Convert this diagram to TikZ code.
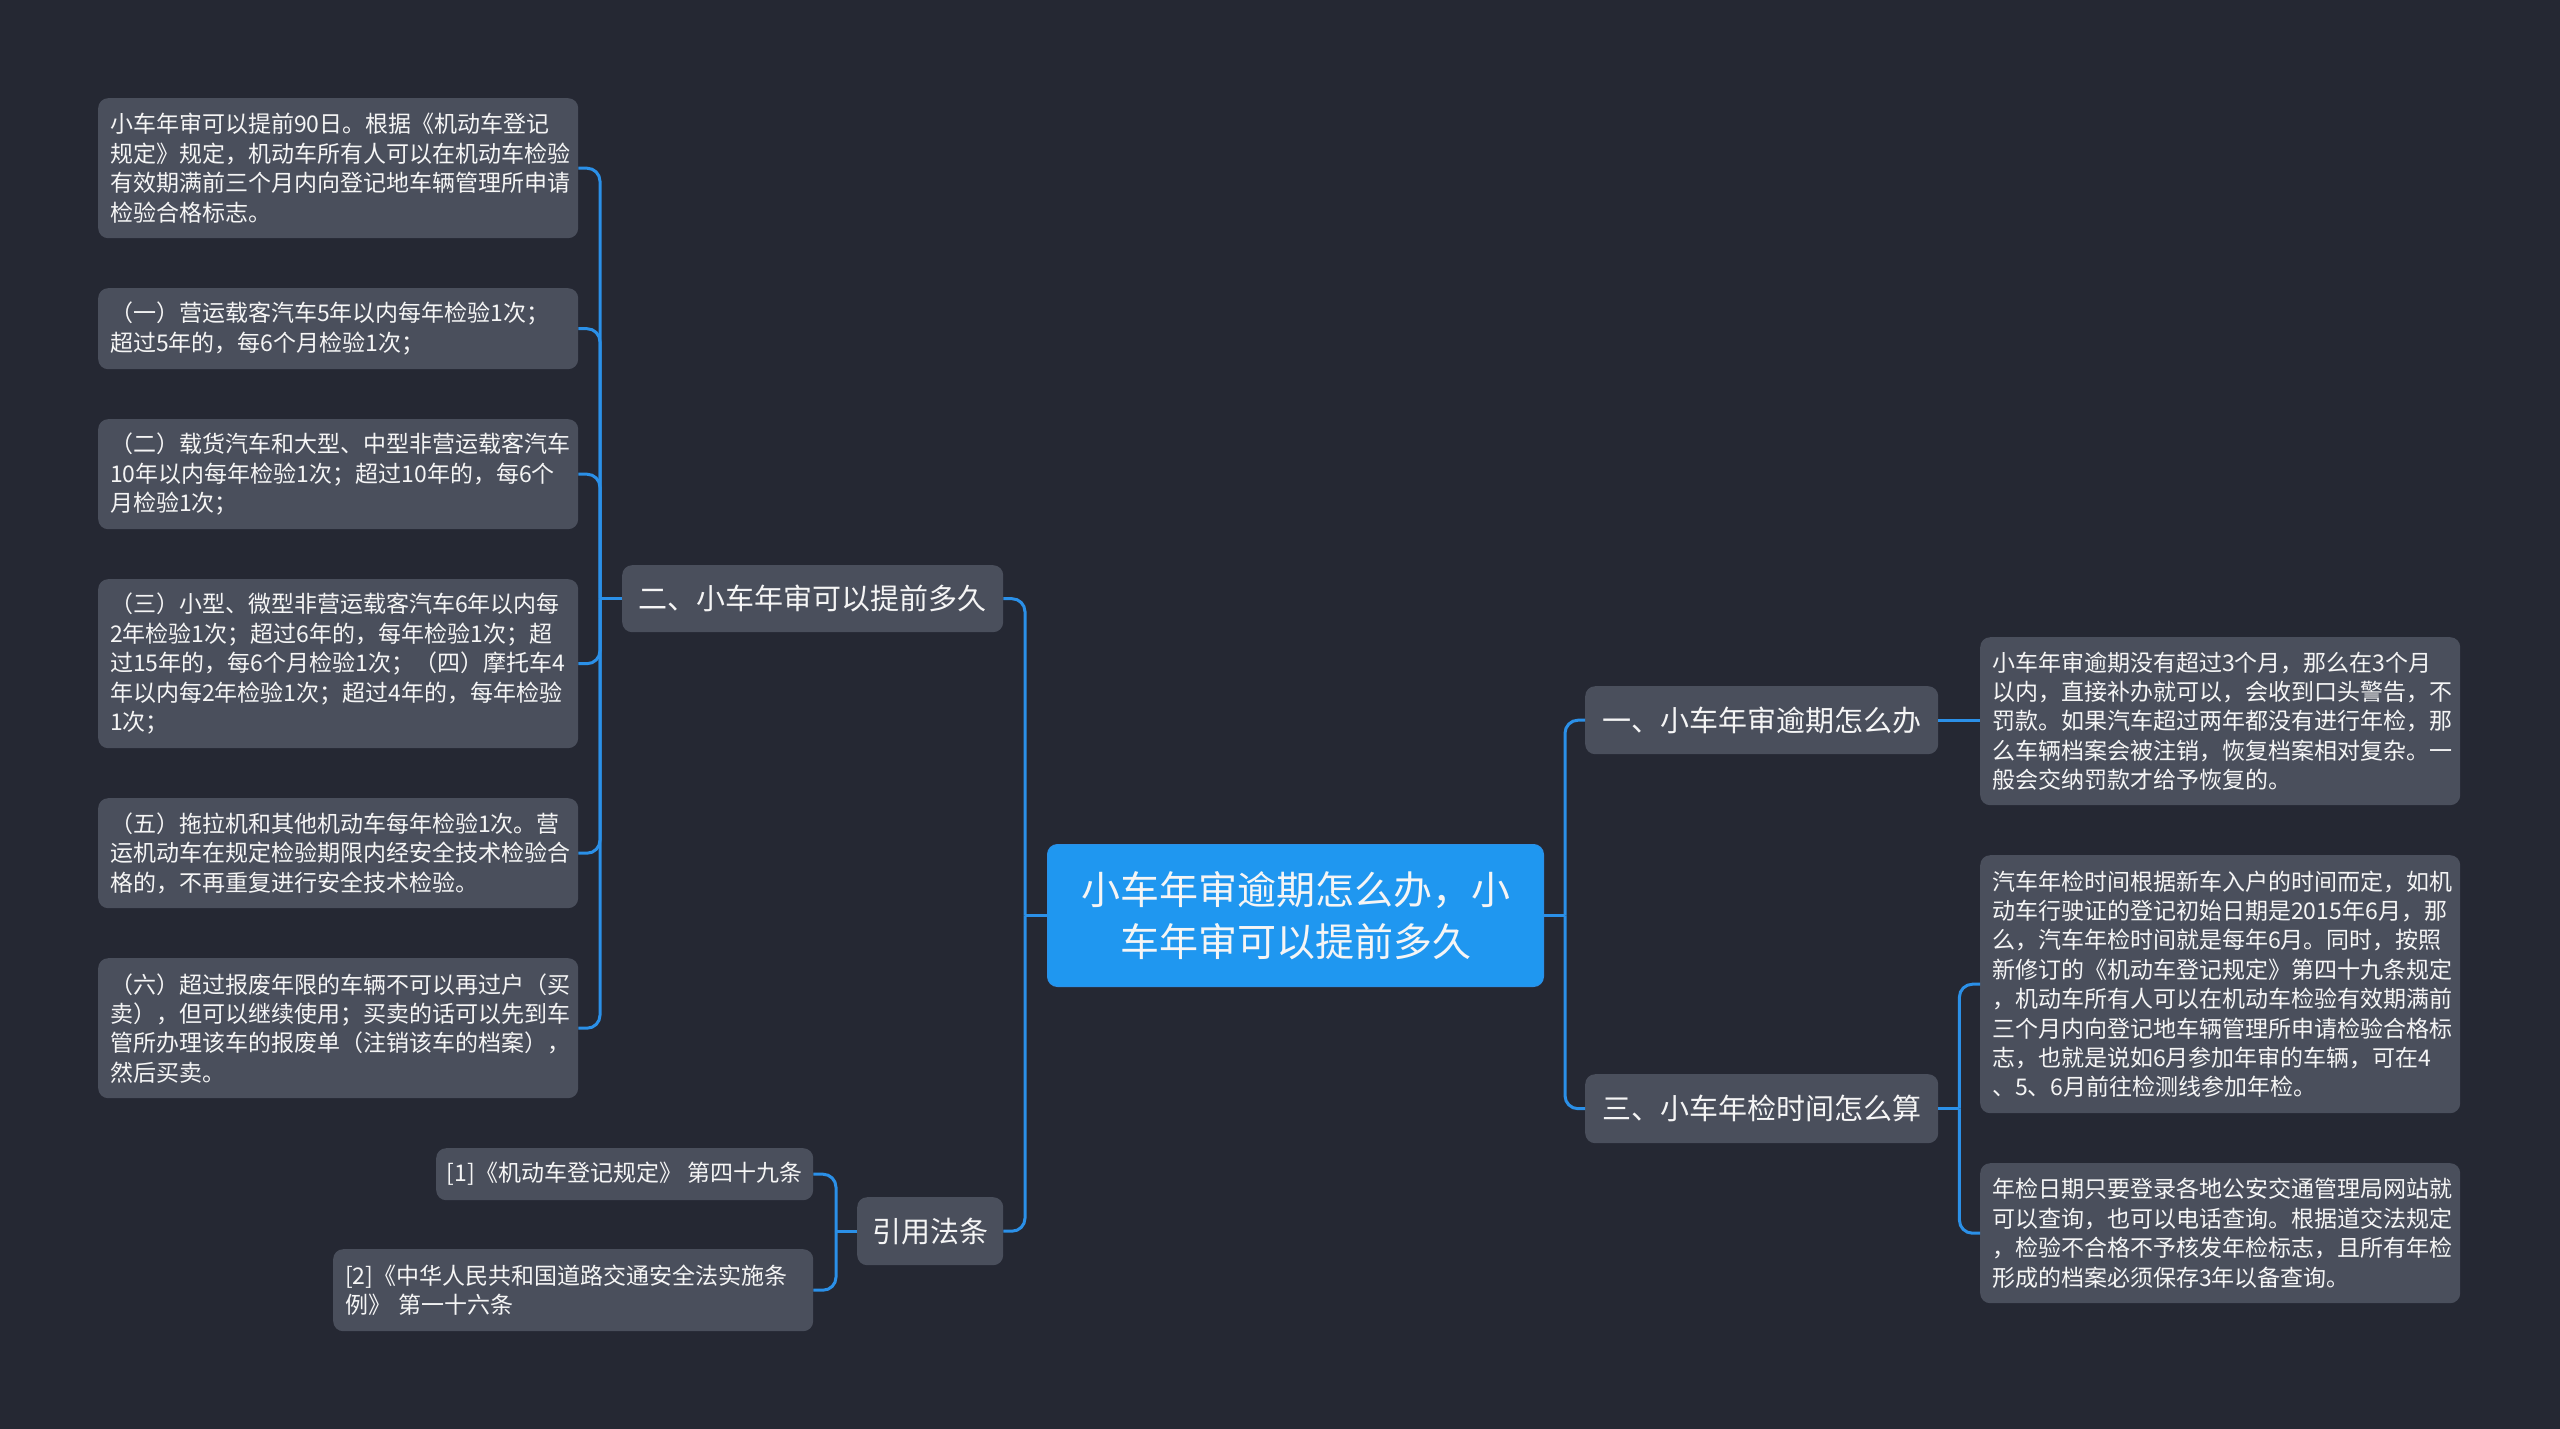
\documentclass[tikz,border=0pt]{standalone}
\usepackage{fontspec}
\newfontfamily\cjk{Noto Sans CJK SC}
\usetikzlibrary{calc}
\definecolor{bgc}{HTML}{252833}
\definecolor{boxc}{HTML}{4A4F5C}
\definecolor{linec}{HTML}{2B90E8}
\definecolor{mainc}{HTML}{1F97F0}
\definecolor{txtc}{HTML}{F5F5F5}
\begin{document}
\begin{tikzpicture}[x=1pt,y=-1pt,
  box/.style={fill=boxc, rounded corners=10pt, text=txtc, inner ysep=0pt, anchor=north west},
  leaf/.style={box, align=left, inner xsep=12pt, text width=456pt, font=\cjk\fontsize{23}{29.4}\selectfont},
  branch/.style={box, align=center, inner xsep=0pt, font=\cjk\fontsize{29}{36}\selectfont},
  ref/.style={box, align=left, inner xsep=12pt, font=\cjk\fontsize{23}{29.4}\selectfont},
  mainbox/.style={fill=mainc, draw=linec, line width=1pt, rounded corners=10pt, text=txtc, align=center, inner sep=0pt, anchor=north west, font=\cjk\fontsize{39}{52}\selectfont},
  conn/.style={draw=linec, line width=3pt},
  curve/.style={conn, rounded corners=13pt}]
\fill[bgc] (0,0) rectangle (2560,1429);
\useasboundingbox (0,0) rectangle (2560,1429);

% center
\node[mainbox, minimum width=496pt, minimum height=142pt] (c) at (1047,844) {小车年审逾期怎么办，小\\车年审可以提前多久};

% branches
\node[branch, minimum width=381pt, minimum height=67pt] (b2) at (622,565) {二、小车年审可以提前多久};
\node[branch, minimum width=146pt, minimum height=68pt] (bq) at (857,1197) {引用法条};
\node[branch, minimum width=353pt, minimum height=68pt] (b1) at (1585,686) {一、小车年审逾期怎么办};
\node[branch, minimum width=353pt, minimum height=69pt] (b3) at (1585,1074) {三、小车年检时间怎么算};

% left leaves
\node[leaf, minimum height=140pt] (l1) at (98,98) {小车年审可以提前90日。根据《机动车登记\\规定》规定，机动车所有人可以在机动车检验\\有效期满前三个月内向登记地车辆管理所申请\\检验合格标志。};
\node[leaf, minimum height=81pt] (l2) at (98,288) {（一）营运载客汽车5年以内每年检验1次；\\超过5年的，每6个月检验1次；};
\node[leaf, minimum height=110pt] (l3) at (98,419) {（二）载货汽车和大型、中型非营运载客汽车\\10年以内每年检验1次；超过10年的，每6个\\月检验1次；};
\node[leaf, minimum height=169pt] (l4) at (98,579) {（三）小型、微型非营运载客汽车6年以内每\\2年检验1次；超过6年的，每年检验1次；超\\过15年的，每6个月检验1次；（四）摩托车4\\年以内每2年检验1次；超过4年的，每年检验\\1次；};
\node[leaf, minimum height=110pt] (l5) at (98,798) {（五）拖拉机和其他机动车每年检验1次。营\\运机动车在规定检验期限内经安全技术检验合\\格的，不再重复进行安全技术检验。};
\node[leaf, minimum height=140pt] (l6) at (98,958) {（六）超过报废年限的车辆不可以再过户（买\\卖），但可以继续使用；买卖的话可以先到车\\管所办理该车的报废单（注销该车的档案），\\然后买卖。};

% references
\node[box, inner xsep=0pt, align=center, font=\cjk\fontsize{23}{29.4}\selectfont, minimum width=377pt, minimum height=52pt] (q1) at (436,1148) {[1]《机动车登记规定》 第四十九条};
\node[ref, text width=456pt, minimum height=82pt] (q2) at (333,1249) {[2]《中华人民共和国道路交通安全法实施条\\例》 第一十六条};

% right leaves
\node[leaf, minimum height=168pt] (r1) at (1980,637) {小车年审逾期没有超过3个月，那么在3个月\\以内，直接补办就可以，会收到口头警告，不\\罚款。如果汽车超过两年都没有进行年检，那\\么车辆档案会被注销，恢复档案相对复杂。一\\般会交纳罚款才给予恢复的。};
\node[leaf, minimum height=258pt] (r2) at (1980,855) {汽车年检时间根据新车入户的时间而定，如机\\动车行驶证的登记初始日期是2015年6月，那\\么，汽车年检时间就是每年6月。同时，按照\\新修订的《机动车登记规定》第四十九条规定\\，机动车所有人可以在机动车检验有效期满前\\三个月内向登记地车辆管理所申请检验合格标\\志，也就是说如6月参加年审的车辆，可在4\\、5、6月前往检测线参加年检。};
\node[leaf, minimum height=140pt] (r3) at (1980,1163) {年检日期只要登录各地公安交通管理局网站就\\可以查询，也可以电话查询。根据道交法规定\\，检验不合格不予核发年检标志，且所有年检\\形成的档案必须保存3年以备查询。};

% junctions
\coordinate (j2) at ($(b2.west)+(-22,0)$);
\coordinate (jL) at ($(c.west)+(-22,0)$);
\coordinate (jR) at ($(c.east)+(21,0)$);
\coordinate (jQ) at ($(bq.west)+(-21,0)$);
\coordinate (j3) at ($(b3.east)+(21,0)$);

% connectors
\draw[conn] (c.west) -- (jL);
\draw[curve] (jL) |- (b2.east);
\draw[curve] (jL) |- (bq.east);
\draw[conn] (c.east) -- (jR);
\draw[curve] (jR) |- (b1.west);
\draw[curve] (jR) |- (b3.west);

\draw[conn] (b2.west) -- (j2);
\foreach \n in {l1,l2,l3,l4,l5,l6} {\draw[curve] (j2) |- (\n.east);}

\draw[conn] (bq.west) -- (jQ);
\draw[curve] (jQ) |- (q1.east);
\draw[curve] (jQ) |- (q2.east);

\draw[conn] (b1.east) -- (r1.west |- b1.east);

\draw[conn] (b3.east) -- (j3);
\draw[curve] (j3) |- (r2.west);
\draw[curve] (j3) |- (r3.west);
\end{tikzpicture}
\end{document}
